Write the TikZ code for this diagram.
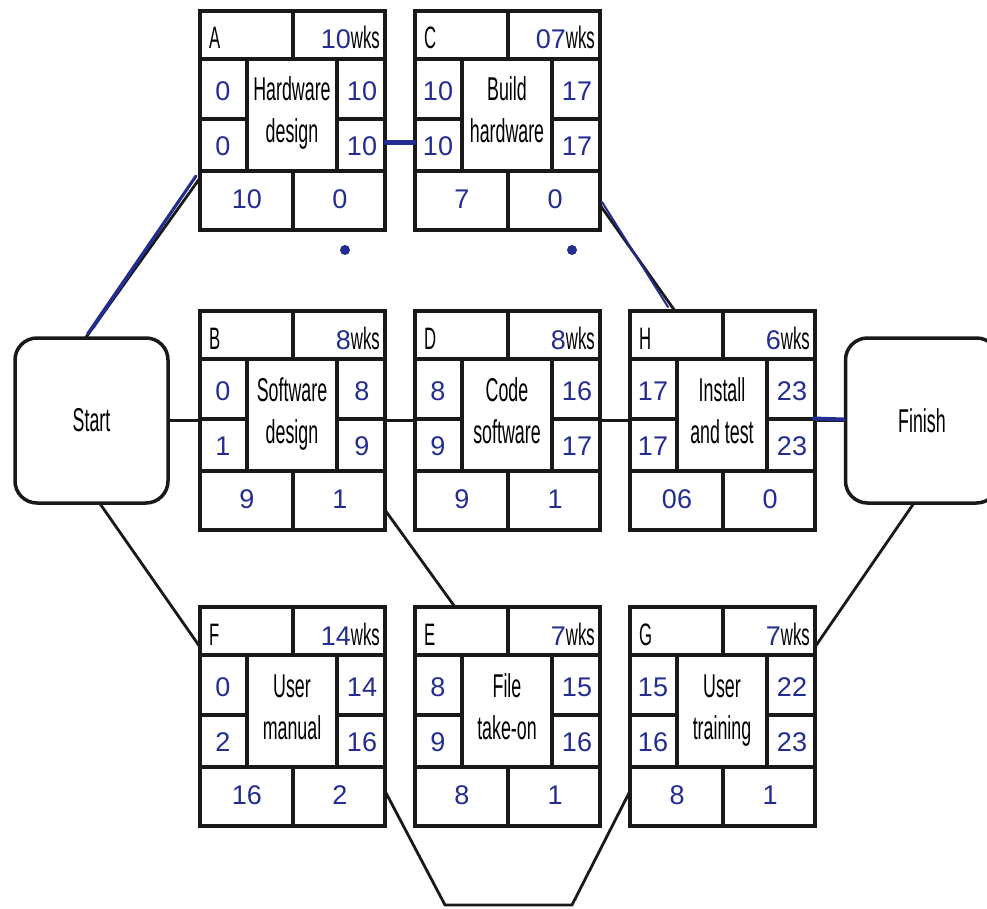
\documentclass[tikz,border=0pt]{standalone}
\usepackage{fontspec}
\setmainfont{Liberation Sans}
\newfontfamily\printfont[FakeStretch=0.54]{Liberation Sans}
\newfontfamily\handfont{Liberation Sans}
\usetikzlibrary{calc}
\definecolor{pen}{RGB}{35,45,145}
\definecolor{ink}{RGB}{25,25,25}
\tikzset{
 actframe/.style={draw=ink,line width=3.5pt,fill=white,minimum width=185pt,minimum height=219pt,inner sep=0pt,outer sep=0pt},
 cellline/.style={draw=ink,line width=3.5pt},
 toptxt/.style={inner sep=0pt,font=\printfont\fontsize{31}{31}\selectfont},
 tasktxt/.style={inner sep=0pt,font=\printfont\fontsize{33}{33}\selectfont,anchor=base},
 num/.style={inner sep=0pt,text=pen,font=\handfont\fontsize{27}{27}\selectfont},
 term/.style={draw=ink,line width=3.5pt,rounded corners=22pt,fill=white,minimum width=153pt,minimum height=165pt,inner sep=0pt,outer sep=0pt,font=\printfont\fontsize{33}{33}\selectfont},
 conn/.style={draw=ink,line width=2.8pt},
 penline/.style={draw=pen,line width=3pt,line cap=round},
 pendot/.style={fill=pen,draw=none,circle,minimum size=10pt,inner sep=0pt},
}
\newcommand\actbox[7]{%
 \node[actframe] (#1) at ({#2+92.5},{#3+109.5}) {};
 \begin{scope}[shift={(#2,#3)}]
  \draw[cellline] (0,48) -- (185,48) (0,160) -- (185,160) (93,0) -- (93,48) (93,160) -- (93,219)
   (47,48) -- (47,160) (137,48) -- (137,160) (0,108) -- (47,108) (137,108) -- (185,108);
  \node[toptxt,anchor=base west] (#1-id) at (9,38) {#4};
  \node[toptxt,anchor=base east] (#1-dur) at (180,38) {{\handfont\fontsize{27}{27}\selectfont\color{pen}#5}wks};
  \node[tasktxt] (#1-t1) at (92,90) {#6};
  \node[tasktxt] (#1-t2) at (92,132) {#7};
 \end{scope}}
\newcommand\actnums[9]{%
 \begin{scope}[shift={(#2,#3)}]
  \node[num] (#1-es) at (23,80) {#4};
  \node[num] (#1-ef) at (162,80) {#5};
  \node[num] (#1-ls) at (23,135) {#6};
  \node[num] (#1-lf) at (162,135) {#7};
  \node[num] (#1-bl) at (47,188) {#8};
  \node[num] (#1-br) at (140,188) {#9};
 \end{scope}}
\begin{document}
\begin{tikzpicture}[x=1pt,y=-1pt]
\useasboundingbox (0,0) rectangle (987,909);
\fill[white] (0,0) rectangle (987,909);
\clip (0,0) rectangle (987,909);

\node[term] (Start) at (91.5,420.5) {Start};
\node[term] (Finish) at (922,420.5) {Finish};

\actbox{A}{200}{11}{A}{10}{Hardware}{design}
\actbox{C}{415}{11}{C}{07}{Build}{hardware}
\actbox{B}{200}{311}{B}{8}{Software}{design}
\actbox{D}{415}{311}{D}{8}{Code}{software}
\actbox{H}{630}{311}{H}{6}{Install}{and test}
\actbox{F}{200}{607}{F}{14}{User}{manual}
\actbox{E}{415}{607}{E}{7}{File}{take-on}
\actbox{G}{630}{607}{G}{7}{User}{training}

\actnums{A}{200}{11}{0}{10}{0}{10}{10}{0}
\actnums{C}{415}{11}{10}{17}{10}{17}{7}{0}
\actnums{B}{200}{311}{0}{8}{1}{9}{9}{1}
\actnums{D}{415}{311}{8}{16}{9}{17}{9}{1}
\actnums{H}{630}{311}{17}{23}{17}{23}{06}{0}
\actnums{F}{200}{607}{0}{14}{2}{16}{16}{2}
\actnums{E}{415}{607}{8}{15}{9}{16}{8}{1}
\actnums{G}{630}{607}{15}{22}{16}{23}{8}{1}

\coordinate (bendL) at (445,905);
\coordinate (bendR) at (572,905);

\draw[conn] ($(Start.north)+(-6,0)$) -- ($(A.south west)+(0,-52)$);
\draw[penline] ($(Start.north)+(-4,-4)$) -- ($(A.south west)+(-4,-54)$);
\draw[penline,line width=2pt] ($(Start.north)+(2,-10)$) -- ($(A.south west)+(-8,-48)$);
\draw[conn] (Start.east) -- (B.west);
\draw[conn] (B.east) -- (D.west);
\draw[conn] (D.east) -- (H.west);
\draw[conn] (H.east) -- (Finish.west);
\draw[penline,line width=5pt] ($(A.east)+(1,22)$) -- ($(C.west)+(-1,22)$);
\draw[conn] ($(C.south east)+(0,-25)$) -- ($(H.north west)+(45,0)$);
\draw[penline,line width=2pt] ($(C.south east)+(2,-28)$) -- ($(H.north west)+(38,-4)$);
\draw[conn] ($(Start.south)+(8,0)$) -- ($(F.north west)+(0,40)$);
\draw[conn] ($(B.south east)+(0,-20)$) -- ($(E.north west)+(40,0)$);
\draw[conn] ($(F.south east)+(0,-35)$) -- (bendL) -- (bendR) -- ($(G.south west)+(0,-35)$);
\draw[conn] ($(G.north east)+(0,40)$) -- ($(Finish.south)+(-8,0)$);
\draw[penline,line width=4pt] ($(Finish.west)+(-32,-2)$) -- ($(Finish.west)+(-2,-1)$);

\node[pendot] (dotA) at (345,250) {};
\node[pendot] (dotC) at (572,250) {};
\end{tikzpicture}
\end{document}
